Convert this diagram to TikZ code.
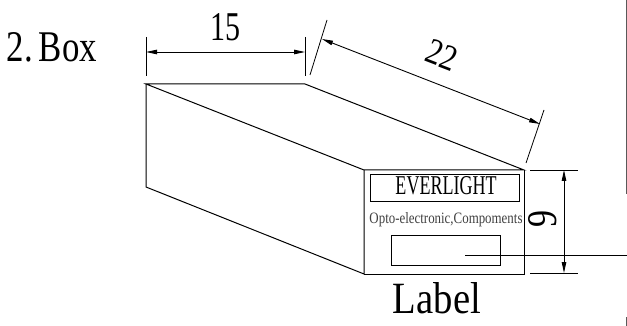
\documentclass[tikz,border=0pt]{standalone}
\usepackage{fontspec}
\usepackage{graphicx}
\usetikzlibrary{arrows.meta}
\setmainfont{Liberation Serif}
\tikzset{
  x=1pt,y=-1pt,
  edge/.style={draw=black,line width=1pt},
  thinedge/.style={draw=black,line width=0.8pt},
  dim/.style={draw=black,line width=0.9pt,{Triangle[length=11pt,width=4.5pt]}-{Triangle[length=11pt,width=4.5pt]}},
  txt/.style={inner sep=0pt,text=black,anchor=base}
}
\begin{document}
\begin{tikzpicture}
\useasboundingbox (0,0) rectangle (627,326);
\fill[white] (0,0) rectangle (627,326);
% box corners
\coordinate (A) at (146,84);
\coordinate (B) at (305,84);
\coordinate (C) at (524,170);
\coordinate (D) at (364,170);
\coordinate (E) at (364,274);
\coordinate (F) at (524,274);
\coordinate (G) at (146,187);
\draw[edge] (A) -- (B) -- (C) -- (D) -- cycle;
\draw[edge] (D) -- (E) -- (G) -- (A);
\draw[edge] (E) -- (F) -- (C);
% face contents
\node[draw,edge,minimum width=149pt,minimum height=27pt,inner sep=0pt] (brand) at (444.5,188.5) {};
\node[txt] (brandt) at (446,195) {\resizebox{101pt}{18pt}{EVERLIGHT}};
\node[txt,text=black!75] (sub) at (446,223) {\resizebox{153pt}{11pt}{Opto-electronic,Compoments}};
\node[draw,thinedge,minimum width=109pt,minimum height=30pt,inner sep=0pt] (lab) at (446,250) {};
\coordinate (leadA) at (465,255);
\coordinate (leadB) at (627,255);
\draw[edge] (leadA) -- (leadB);
\node[txt] (labt) at (437,313) {\resizebox{88pt}{31pt}{Label}};
% dim 15
\coordinate (e1a) at (146,37); \coordinate (e1b) at (146,76);
\coordinate (e2a) at (305,37); \coordinate (e2b) at (305,76);
\draw[thinedge] (e1a) -- (e1b);
\draw[thinedge] (e2a) -- (e2b);
\coordinate (d1a) at (146,52); \coordinate (d1b) at (305,52);
\draw[dim] (d1a) -- (d1b);
\node[txt] (t15) at (225,41) {\resizebox{30pt}{27pt}{15}};
% dim 22
\coordinate (e3a) at (327,20); \coordinate (e3b) at (310,75);
\coordinate (e4a) at (544,110); \coordinate (e4b) at (526,163);
\draw[thinedge] (e3a) -- (e3b);
\draw[thinedge] (e4a) -- (e4b);
\coordinate (d2a) at (322,39); \coordinate (d2b) at (540,124);
\draw[dim] (d2a) -- (d2b);
\node[inner sep=0pt,anchor=center,rotate=-21] (t22) at (442,55) {\resizebox{31pt}{24pt}{22}};
% dim 9
\coordinate (e5a) at (530,170); \coordinate (e5b) at (578,170);
\coordinate (e6a) at (530,273); \coordinate (e6b) at (578,273);
\draw[thinedge] (e5a) -- (e5b);
\draw[thinedge] (e6a) -- (e6b);
\coordinate (d3a) at (564,170); \coordinate (d3b) at (564,273);
\draw[dim] (d3a) -- (d3b);
\node[inner sep=0pt,anchor=center,rotate=90] (t9) at (542.5,218.5) {\resizebox{17pt}{28pt}{9}};
% title
\node[txt] (title) at (52,62) {\resizebox{90pt}{29pt}{2.\,Box}};
% frame line at right
\coordinate (f1) at (626,0); \coordinate (f2) at (626,194);
\coordinate (f3) at (626,317); \coordinate (f4) at (626,326);
\draw[draw=black!65,line width=1pt] (f1) -- (f2);
\draw[draw=black!65,line width=1pt] (f3) -- (f4);
\end{tikzpicture}
\end{document}
